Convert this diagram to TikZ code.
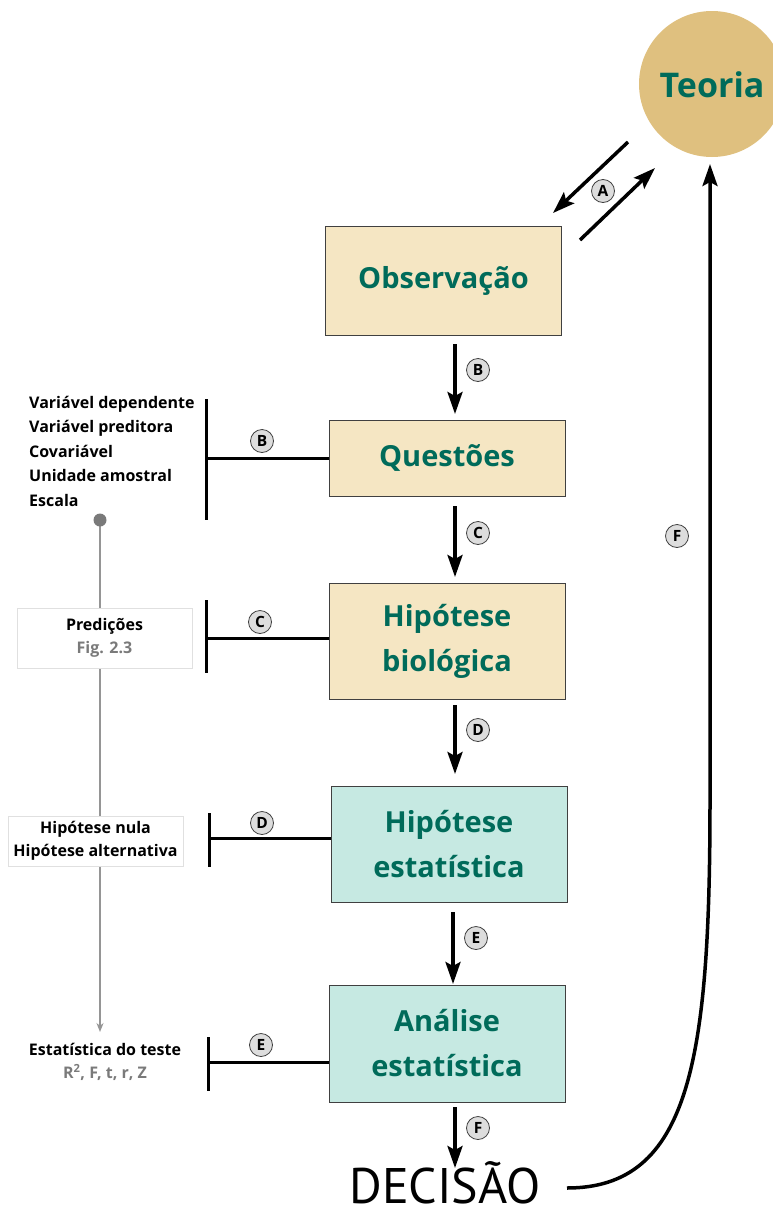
\documentclass[tikz,border=0pt]{standalone}
\usepackage{fontspec}
\setmainfont{Open Sans}
\newfontfamily\decfont{PT Sans}
\usetikzlibrary{arrows.meta}
\definecolor{beige}{HTML}{F5E6C3}
\definecolor{teal}{HTML}{C6E9E2}
\definecolor{gold}{HTML}{DFC07F}
\definecolor{deepgreen}{HTML}{006B5A}
\definecolor{tagfill}{HTML}{DDDDDD}
\definecolor{graytxt}{HTML}{7A7A7A}
\tikzset{
  stage/.style={draw=black!75, line width=1pt, minimum width=236pt, align=center,
    font=\fontsize{29}{45}\selectfont\bfseries, text=deepgreen, inner sep=0pt},
  flow/.style={line width=3.5pt, -{Stealth[length=22pt,width=15pt,inset=4pt]}},
  tag/.style={circle, draw=black!75, fill=tagfill, line width=0.8pt, minimum size=23pt,
    inner sep=0pt, font=\fontsize{15.5}{15.5}\selectfont\bfseries},
  bar/.style={line width=3pt},
  sidetxt/.style={font=\fontsize{16}{24.5}\selectfont\bfseries, inner sep=0pt},
  sidebox/.style={draw=black!12, fill=white, line width=0.6pt, align=center,
    font=\fontsize{16}{23}\selectfont\bfseries},
}
\begin{document}
\begin{tikzpicture}[x=1pt,y=-1pt]
\useasboundingbox (0,0) rectangle (773,1210);
\clip (0,0) rectangle (773,1210);

% theory circle
\node[circle, fill=gold, minimum size=146pt, inner sep=0pt] (teoria) at (712,84) {};
\node[font=\fontsize{34}{34}\selectfont\bfseries, text=deepgreen] (teoriatxt) at (712,85) {Teoria};

% main stages
\node[stage, fill=beige, minimum height=109pt] (obs) at (443.5,280.5) {Observação};
\node[stage, fill=beige, minimum height=76pt] (que) at (447,458) {Questões};
\node[stage, fill=beige, minimum height=116pt] (hbio) at (447,641) {Hipótese\\biológica};
\node[stage, fill=teal, minimum height=116pt] (hest) at (449,844) {Hipótese\\estatística};
\node[stage, fill=teal, minimum height=117pt] (ana) at (447,1043.5) {Análise\\estatística};
\node[font=\fontsize{50}{50}\selectfont\decfont, inner sep=0pt, text depth=0pt, anchor=base] (dec) at (445,1203) {DECISÃO};

% A: exchange between theory and observation
\coordinate (a1s) at (628,142);
\coordinate (a1e) at (553,213);
\coordinate (a2s) at (580,240);
\coordinate (a2e) at (655,168);
\draw[flow] (a1s) -- (a1e);
\draw[flow] (a2s) -- (a2e);
\node[tag] (tA) at (603,191) {A};

% vertical flow
\draw[flow] (455,344) coordinate (b0) -- (455,414) coordinate (b1);
\node[tag] (tB) at (478,370) {B};
\draw[flow] (455,506) coordinate (c0) -- (455,577) coordinate (c1);
\node[tag] (tC) at (478,533) {C};
\draw[flow] (455,705) coordinate (d0) -- (455,774) coordinate (d1);
\node[tag] (tD) at (478,730) {D};
\draw[flow] (453,912) coordinate (e0) -- (453,984) coordinate (e1);
\node[tag] (tE) at (476,938) {E};
\draw[flow] (455,1107) coordinate (f0) -- (455,1168) coordinate (f1);
\node[tag] (tF) at (478,1128) {F};

% F: decision back to theory
\coordinate (fend) at (710,164);
\draw[flow] (567,1188) .. controls (690,1188) and (710,1060) .. (710,800) -- (fend);
\node[tag] (tF2) at (677,536) {F};

% left column: guide line
\draw[graytxt!80, line width=1.3pt, -{Stealth[length=9pt,width=7pt]}] (100,520) coordinate (g0) -- (100,1032) coordinate (g1);
\fill[graytxt] (g0) circle (6.5pt);

% B bracket
\draw[bar] (206,399) -- (206,520);
\draw[bar] (206,458) -- (206,458 -| que.west);
\node[tag] (tBl) at (262,441) {B};
\node[sidetxt, anchor=north west, align=left] (listB) at (29,396) {Variável dependente\\Variável preditora\\Covariável\\Unidade amostral\\Escala};

% C bracket
\node[sidebox, minimum width=175pt, minimum height=60pt] (pred) at (104.5,638) {Predições\\\textcolor{graytxt}{Fig. 2.3}};
\draw[bar] (206,600) -- (206,673);
\draw[bar] (206,638) -- (206,638 -| hbio.west);
\node[tag] (tCl) at (260,622) {C};

% D bracket
\node[sidebox, minimum width=175pt, minimum height=50pt] (hyp) at (95.5,841) {Hipótese nula\\Hipótese alternativa};
\draw[bar] (209,813) -- (209,867);
\draw[bar] (209,838) -- (209,838 -| hest.west);
\node[tag] (tDl) at (262,823) {D};

% E bracket
\node[sidetxt, align=center, font=\fontsize{16}{23}\selectfont\bfseries] (stat) at (105,1062) {Estatística do teste\\\textcolor{graytxt}{R\textsuperscript{2}, F, t, r, Z}};
\draw[bar] (208,1037) -- (208,1091);
\draw[bar] (208,1062) -- (208,1062 -| ana.west);
\node[tag] (tEl) at (261,1045) {E};
\end{tikzpicture}
\end{document}
